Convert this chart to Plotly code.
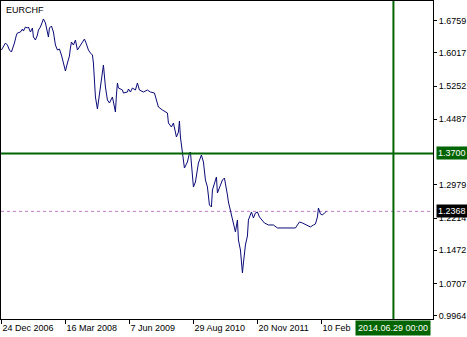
import plotly.graph_objects as go

symbol = "EURCHF"

dates = [
    "2006-12-24", "2007-01-07", "2007-01-21", "2007-02-04", "2007-02-18", "2007-03-04",
    "2007-03-18", "2007-03-25", "2007-04-08", "2007-04-15", "2007-05-06", "2007-05-20",
    "2007-05-27", "2007-06-10", "2007-06-24", "2007-07-01", "2007-07-15", "2007-07-29",
    "2007-08-05", "2007-08-19", "2007-09-02", "2007-09-09", "2007-09-23", "2007-10-07",
    "2007-10-14", "2007-10-28", "2007-11-11", "2007-11-18", "2007-11-25", "2007-12-09",
    "2007-12-23", "2008-01-06", "2008-01-20", "2008-02-03", "2008-02-17", "2008-03-02",
    "2008-03-16", "2008-03-30", "2008-04-13", "2008-04-20", "2008-04-27", "2008-05-11",
    "2008-05-25", "2008-06-08", "2008-06-22", "2008-07-06", "2008-07-27", "2008-08-10",
    "2008-08-24", "2008-09-07", "2008-09-21", "2008-09-28", "2008-10-12", "2008-10-26",
    "2008-11-02", "2008-11-23", "2008-12-07", "2008-12-21", "2009-01-04", "2009-01-18",
    "2009-02-08", "2009-02-15", "2009-03-01", "2009-03-08", "2009-03-15", "2009-03-22",
    "2009-04-19", "2009-04-26", "2009-05-24", "2009-05-31", "2009-06-14", "2009-06-28",
    "2009-07-19", "2009-08-02", "2009-08-16", "2009-09-13", "2009-10-11", "2009-11-01",
    "2009-11-29", "2009-12-13", "2009-12-27", "2010-01-24", "2010-02-14", "2010-02-28",
    "2010-03-07", "2010-03-28", "2010-04-11", "2010-05-02", "2010-05-16", "2010-05-23",
    "2010-05-30", "2010-06-13", "2010-06-27", "2010-07-18", "2010-08-01", "2010-08-08",
    "2010-08-22", "2010-08-29", "2010-09-12", "2010-09-26", "2010-10-03", "2010-10-24",
    "2010-11-07", "2010-11-21", "2010-12-05", "2010-12-19", "2011-01-02", "2011-01-09",
    "2011-01-23", "2011-02-06", "2011-02-13", "2011-02-27", "2011-03-20", "2011-04-03",
    "2011-04-17", "2011-04-24", "2011-05-01", "2011-05-15", "2011-05-29", "2011-06-05",
    "2011-06-19", "2011-07-03", "2011-07-10", "2011-07-24", "2011-07-31", "2011-08-07",
    "2011-08-14", "2011-08-28", "2011-09-11", "2011-09-18", "2011-10-09", "2011-10-23",
    "2011-11-06", "2011-11-20", "2011-12-04", "2011-12-25", "2012-01-08", "2012-02-05",
    "2012-03-11", "2012-04-08", "2012-06-17", "2012-08-12", "2012-08-26", "2012-09-09",
    "2012-09-30", "2012-11-04", "2012-11-25", "2012-12-16", "2012-12-30", "2013-01-13",
    "2013-01-20", "2013-02-03", "2013-02-17", "2013-03-03", "2013-03-17",
]

prices = [
    1.6080, 1.6149, 1.6241, 1.6195, 1.6080, 1.6034,
    1.6149, 1.6241, 1.6425, 1.6471, 1.6494, 1.6563,
    1.6517, 1.6609, 1.6586, 1.6609, 1.6494, 1.6586,
    1.6379, 1.6310, 1.6425, 1.6540, 1.6609, 1.6725,
    1.6794, 1.6702, 1.6471, 1.6379, 1.6586, 1.6632,
    1.6494, 1.6195, 1.6080, 1.6103, 1.5965, 1.5804,
    1.5597, 1.5781, 1.5942, 1.6126, 1.6264, 1.6195,
    1.6310, 1.6080, 1.6149, 1.6218, 1.6333, 1.6218,
    1.6080, 1.6011, 1.5965, 1.5781, 1.4999, 1.4723,
    1.4884, 1.5321, 1.5735, 1.5229, 1.4930, 1.4861,
    1.4999, 1.4884, 1.4654, 1.5045, 1.5321, 1.5206,
    1.5160, 1.5091, 1.5114, 1.5183, 1.5114, 1.5206,
    1.5160, 1.5321, 1.5160, 1.5114, 1.5160, 1.5114,
    1.5091, 1.4930, 1.4769, 1.4700, 1.4654, 1.4631,
    1.4401, 1.4309, 1.4401, 1.4079, 1.4194, 1.4447,
    1.4079, 1.3734, 1.3366, 1.3504, 1.3711, 1.3734,
    1.3159, 1.2929, 1.3044, 1.3366, 1.3481, 1.3665,
    1.3504, 1.3090, 1.2929, 1.2515, 1.2469, 1.2860,
    1.3021, 1.3159, 1.2791, 1.2906, 1.3090, 1.3136,
    1.2906, 1.2745, 1.2584, 1.2400, 1.2216, 1.2101,
    1.1894, 1.2170, 1.1710, 1.1480, 1.1204, 1.0951,
    1.1181, 1.1595, 1.1802, 1.2170, 1.2354, 1.2216,
    1.2331, 1.2354, 1.2239, 1.2170, 1.2101, 1.2055,
    1.2055, 1.1986, 1.1986, 1.1986, 1.2055, 1.2124,
    1.2101, 1.2032, 1.2009, 1.2055, 1.2078, 1.2239,
    1.2446, 1.2308, 1.2285, 1.2331, 1.2368,
]

x_tick_dates = ["2006-12-24", "2008-03-16", "2009-06-07", "2010-08-29", "2011-11-20", "2013-02-10"]
x_tick_text = ["24 Dec 2006", "16 Mar 2008", "7 Jun 2009", "29 Aug 2010", "20 Nov 2011", "10 Feb"]
y_tick_vals = [1.6759, 1.6017, 1.5252, 1.4487, 1.2979, 1.2214, 1.1472, 1.0707, 0.9964]
y_tick_text = ["1.6759", "1.6017", "1.5252", "1.4487", "1.2979", "1.2214", "1.1472", "1.0707", "0.9964"]

hline_level = 1.3700
hline_label = "1.3700"
vline_date = "2014-06-29"
vline_label = "2014.06.29 00:00"
last_price = 1.2368
last_label = "1.2368"

x_range = ["2006-12-21", "2015-04-02"]
y_range = [0.98922, 1.72076]

FONT = "Liberation Sans, Arial, sans-serif"
LINE_COLOR = "#0a0a78"
GREEN = "#006400"

fig = go.Figure()
fig.add_trace(go.Scatter(
    x=dates, y=prices, mode="lines",
    line=dict(color=LINE_COLOR, width=1),
    hoverinfo="skip", showlegend=False,
))

# bid line (dotted)
fig.add_shape(type="line", xref="paper", x0=0, x1=1, yref="y", y0=last_price, y1=last_price,
              line=dict(color="#c07cc8", width=1, dash="dot"), layer="below")
# horizontal green line
fig.add_shape(type="line", xref="paper", x0=0, x1=1, yref="y", y0=hline_level, y1=hline_level,
              line=dict(color=GREEN, width=2))
# vertical green line
fig.add_shape(type="line", xref="x", x0=vline_date, x1=vline_date, yref="paper", y0=0, y1=1,
              line=dict(color=GREEN, width=2))

fig.add_annotation(text=symbol, xref="paper", yref="paper", x=0, y=1, xanchor="left", yanchor="top",
                   xshift=3, yshift=-2, showarrow=False, font=dict(family=FONT, size=9, color="#000000"))
fig.add_annotation(text=hline_label, xref="paper", yref="y", x=1, y=hline_level, xanchor="left",
                   yanchor="middle", xshift=3, showarrow=False, bgcolor=GREEN, borderpad=1,
                   font=dict(family=FONT, size=9, color="#ffffff"))
fig.add_annotation(text=last_label, xref="paper", yref="y", x=1, y=last_price, xanchor="left",
                   yanchor="middle", xshift=3, showarrow=False, bgcolor="#000000", borderpad=1,
                   font=dict(family=FONT, size=9, color="#ffffff"))
fig.add_annotation(text=vline_label, xref="x", yref="paper", x=vline_date, y=0, xanchor="center",
                   yanchor="top", yshift=-1, showarrow=False, bgcolor=GREEN, borderpad=2,
                   font=dict(family=FONT, size=9, color="#ffffff"))

fig.update_layout(
    width=467, height=337,
    margin=dict(l=1, r=34, t=1, b=18, pad=0),
    paper_bgcolor="#ffffff", plot_bgcolor="#ffffff",
    font=dict(family=FONT, size=9, color="#000000"),
    showlegend=False,
)
fig.update_xaxes(
    type="date", range=x_range, showgrid=False, zeroline=False,
    tickmode="array", tickvals=x_tick_dates, ticktext=x_tick_text,
    ticks="outside", ticklen=4, tickcolor="#000000", ticklabelposition="outside right",
    showline=True, linecolor="#000000", linewidth=1, mirror=True,
    tickfont=dict(family=FONT, size=9, color="#000000"),
)
fig.update_yaxes(
    range=y_range, side="right", showgrid=False, zeroline=False,
    tickmode="array", tickvals=y_tick_vals, ticktext=y_tick_text,
    ticks="outside", ticklen=3, tickcolor="#000000",
    showline=True, linecolor="#000000", linewidth=1, mirror=True,
    tickfont=dict(family=FONT, size=9, color="#000000"),
)

fig.write_html("out.html")
